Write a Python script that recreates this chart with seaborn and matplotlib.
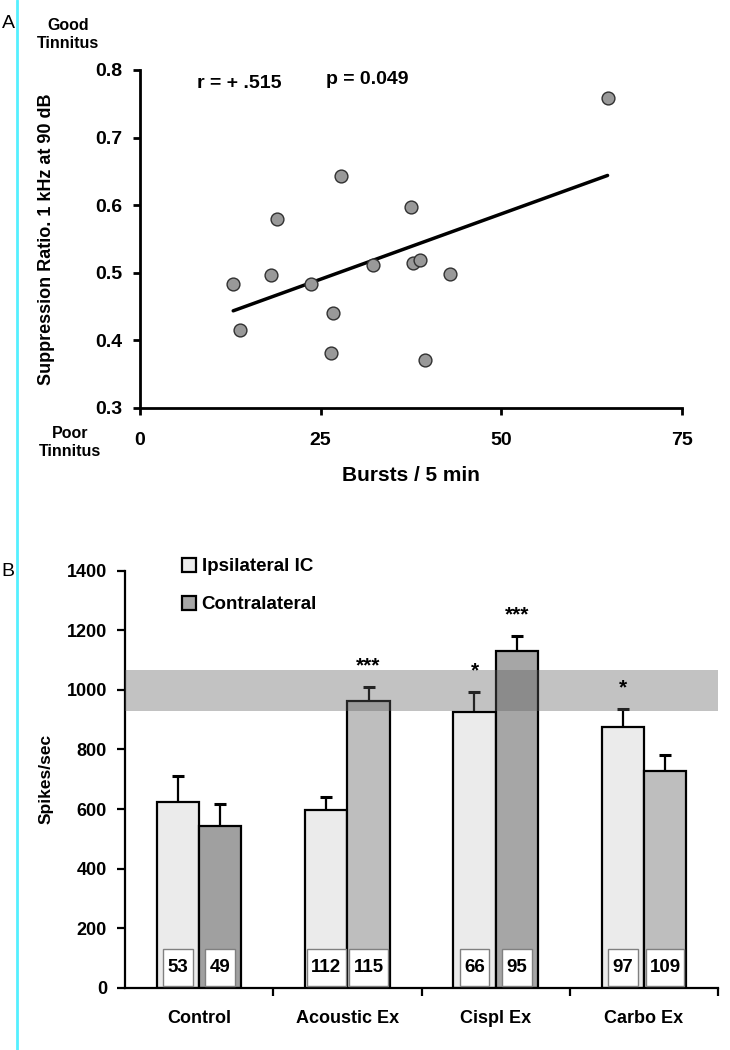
import numpy as np
import pandas as pd
import seaborn as sns
import matplotlib.pyplot as plt
from matplotlib.patches import Patch, Rectangle
from matplotlib.lines import Line2D

# Panel A data: bursts vs suppression ratio
bursts = [12.9, 13.9, 18.1, 19.0, 23.7, 26.7, 26.4, 27.8, 32.3, 37.8, 38.8, 37.5, 42.9, 39.4, 64.7]
ratio = [0.484, 0.416, 0.497, 0.579, 0.484, 0.441, 0.382, 0.643, 0.511, 0.514, 0.519, 0.597, 0.498, 0.371, 0.758]

# Panel B data: spikes/sec per group
groups = ['Control', 'Acoustic Ex', 'Cispl Ex', 'Carbo Ex']
sides = ['Ipsilateral IC', 'Contralateral']
ipsi_mean = [625, 598, 926, 876]
ipsi_err = [87, 43, 68, 60]
contra_mean = [545, 962, 1130, 729]
contra_err = [72, 49, 51, 51]
ipsi_n = [53, 112, 66, 97]
contra_n = [49, 115, 95, 109]
ipsi_stars = ['', '', '*', '*']
contra_stars = ['', '***', '***', '']
band = (930, 1068)

ipsi_color = '#ebebeb'
contra_colors = ['#a0a0a0', '#bebebe', '#a6a6a6', '#bebebe']

sns.set_style('ticks')
plt.rcParams['font.family'] = ['Liberation Sans', 'DejaVu Sans']
plt.rcParams['font.weight'] = 'bold'
plt.rcParams['text.color'] = 'black'
plt.rcParams['axes.labelcolor'] = 'black'
plt.rcParams['axes.edgecolor'] = 'black'
plt.rcParams['xtick.color'] = 'black'
plt.rcParams['ytick.color'] = 'black'

fig = plt.figure(figsize=(7.3, 10.5), dpi=100)

def fx(x):
    return x / 730

def fy(y):
    return 1 - y / 1050

# ---------- Panel A ----------
ax1 = fig.add_axes([fx(140), fy(408), fx(682) - fx(140), fy(70) - fy(408)])
sns.regplot(x=bursts, y=ratio, ci=None, scatter=False, ax=ax1,
            line_kws=dict(color='black', lw=2.5))
sns.scatterplot(x=bursts, y=ratio, ax=ax1, s=85, color='#999999',
                edgecolor='#303030', linewidth=1, zorder=3)
ax1.set_xlim(0, 75)
ax1.set_ylim(0.3, 0.8)
ax1.set_xticks([0, 25, 50, 75])
ax1.set_yticks([0.3, 0.4, 0.5, 0.6, 0.7, 0.8])
ax1.set_yticklabels(['0.3', '0.4', '0.5', '0.6', '0.7', '0.8'])
sns.despine(ax=ax1)
for s in ['left', 'bottom']:
    ax1.spines[s].set_linewidth(2)
ax1.tick_params(axis='y', direction='out', length=5, width=2, labelsize=14, pad=8)
ax1.tick_params(axis='x', direction='out', length=5, width=2, labelsize=14, pad=12)
ax1.set_xlabel('Bursts / 5 min', fontsize=15, fontweight='bold')
ax1.xaxis.set_label_coords(0.5, -0.172)
ax1.set_ylabel('Suppression Ratio. 1 kHz at 90 dB', fontsize=13, fontweight='bold')
ax1.yaxis.set_label_coords((55 - 140) / 542, 0.5)

fig.text(fx(239), fy(83), 'r = + .515', fontsize=14, ha='center', va='center')
fig.text(fx(367), fy(79), 'p = 0.049', fontsize=14, ha='center', va='center')
fig.text(fx(68), fy(34), 'Good\nTinnitus', fontsize=11.5, ha='center', va='center', linespacing=1.25)
fig.text(fx(70), fy(442), 'Poor\nTinnitus', fontsize=11.5, ha='center', va='center', linespacing=1.25)
fig.text(fx(8), fy(23), 'A', fontsize=14, fontweight='normal', ha='center', va='center')
fig.text(fx(8), fy(571), 'B', fontsize=14, fontweight='normal', ha='center', va='center')

# ---------- Panel B ----------
df = pd.DataFrame({
    'group': groups * 2,
    'side': [sides[0]] * 4 + [sides[1]] * 4,
    'spikes': ipsi_mean + contra_mean,
})
ax2 = fig.add_axes([fx(125), fy(988), fx(718) - fx(125), fy(570.6) - fy(988)])
sns.barplot(data=df, x='group', y='spikes', hue='side', order=groups, hue_order=sides,
            palette={sides[0]: ipsi_color, sides[1]: contra_colors[2]},
            width=0.57, errorbar=None, edgecolor='black', linewidth=1.6,
            legend=False, ax=ax2)

errs = [ipsi_err, contra_err]
counts = [ipsi_n, contra_n]
star_sets = [ipsi_stars, contra_stars]
bar_sets = list(ax2.containers)[:2]
for k, cont in enumerate(bar_sets):
    for i, bar in enumerate(cont):
        if k == 1:
            bar.set_facecolor(contra_colors[i])
        xc = bar.get_x() + bar.get_width() / 2
        h = bar.get_height()
        eb = ax2.errorbar(xc, h, yerr=[[0], [errs[k][i]]], fmt='none', ecolor='black',
                          elinewidth=1.6, capsize=4, capthick=2.2, zorder=2)
        # only the upper cap, like the original
        eb[1][0].set_visible(False)
        n_txt = str(counts[k][i])
        margin = 0.15 if len(n_txt) < 3 else 0.04
        w = bar.get_width()
        ax2.add_patch(Rectangle((bar.get_x() + margin * w, 8), w * (1 - 2 * margin), 123,
                                facecolor='white', edgecolor='#808080', lw=1, zorder=6))
        ax2.text(xc, 70, n_txt, fontsize=13.5, ha='center', va='center', zorder=7)
        if star_sets[k][i]:
            ax2.text(xc, h + errs[k][i] + 70, star_sets[k][i], fontsize=15,
                     ha='center', va='center', zorder=7)

ax2.axhspan(band[0], band[1], color='#606060', alpha=0.38, lw=0, zorder=5)

ax2.set_xlim(-0.5, 3.5)
ax2.set_ylim(0, 1400)
ax2.set_yticks(range(0, 1401, 200))
ax2.set_xticks([0.5, 1.5, 2.5, 3.5], minor=True)
sns.despine(ax=ax2)
for s in ['left', 'bottom']:
    ax2.spines[s].set_linewidth(1.6)
ax2.tick_params(axis='y', direction='out', length=6, width=1.6, labelsize=13, pad=7)
ax2.tick_params(axis='x', which='major', length=0, labelsize=13, pad=16)
ax2.tick_params(axis='x', which='minor', direction='out', length=6, width=1.6)
ax2.set_xlabel('')
ax2.set_ylabel('Spikes/sec', fontsize=12.5, fontweight='bold')
ax2.yaxis.set_label_coords((54 - 125) / 593, 0.5)

handles = [Patch(facecolor=ipsi_color, edgecolor='black', lw=1.6, label=sides[0]),
           Patch(facecolor='#a6a6a6', edgecolor='black', lw=1.6, label=sides[1])]
ax2.legend(handles=handles, loc='upper left', bbox_to_anchor=(fx(182), fy(558)),
           bbox_transform=fig.transFigure, frameon=False, fontsize=13.5,
           handlelength=0.75, handleheight=0.75, handletextpad=0.3,
           labelspacing=1.1, borderpad=0, borderaxespad=0)

# cyan margin line on the left
fig.add_artist(Line2D([fx(16.5), fx(16.5)], [0, 1], color='#55f0ff', lw=2,
                      transform=fig.transFigure))

plt.savefig('out.png', dpi=100)
